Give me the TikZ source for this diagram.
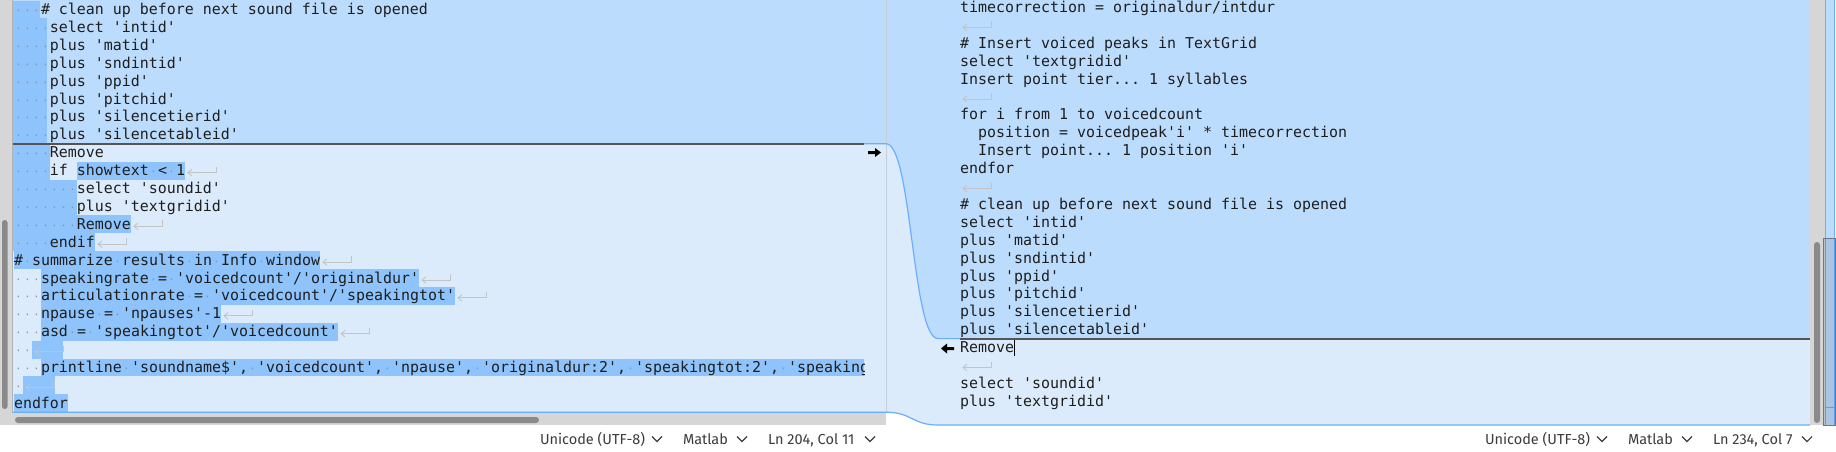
\documentclass[tikz,border=0pt]{standalone}
\usepackage{fontspec}
\setmonofont{DejaVu Sans Mono}
\newfontfamily\uifont{Fira Sans}
\definecolor{chunkM}{HTML}{BCDCFD}
\definecolor{chunkL}{HTML}{DCEBFC}
\definecolor{inlD}{HTML}{8EC3FC}
\definecolor{sepline}{HTML}{545454}
\definecolor{linkblue}{HTML}{6AAEFC}
\definecolor{trough}{HTML}{D6D6D6}
\definecolor{thumb}{HTML}{8A8A8A}
\definecolor{wsdot}{HTML}{8496A8}
\definecolor{nlgray}{HTML}{C4C4C4}
\definecolor{codetext}{HTML}{1E1E1E}
\definecolor{uitext}{HTML}{3C3C3C}
\definecolor{gutline}{HTML}{C5CFD9}
\begin{document}
\begin{tikzpicture}[x=1pt,y=-1pt,
  code/.style={font=\ttfamily\fontsize{14.95}{17.9}\selectfont, text=codetext, anchor=base west, inner sep=0pt, outer sep=0pt},
  ui/.style={font=\uifont\fontsize{14.5}{18}\selectfont, text=uitext, anchor=base west, inner sep=0pt, outer sep=0pt},
  link/.style={draw=linkblue, line width=1.2pt},
  sepl/.style={draw=sepline, line width=2pt},
  nlmark/.style={draw=nlgray, line width=0.9pt},
  chev/.style={draw=uitext, line width=1.1pt}]
\def~{\makebox[0.602em]{\color{wsdot}\scalebox{0.7}{\char"00B7}}}
\useasboundingbox (0,0) rectangle (1836,452);
\fill[white] (0,0) rectangle (1836,452);
% chunk anchors
\coordinate (Ltop) at (886,143.75);
\coordinate (Rtop) at (938,338.6);
\coordinate (Lbot) at (886,412.25);
\coordinate (Rbot) at (938,425);
% pane fills
\fill[chunkM] (12,0) rectangle (Ltop);
\fill[chunkL] (12,143.75) rectangle (Lbot);
\fill[chunkM] (886,0) -- (Ltop) .. controls (912,143.75) and (912,338.6) .. (Rtop) -- (938,0) -- cycle;
\fill[chunkL] (Ltop) .. controls (912,143.75) and (912,338.6) .. (Rtop) -- (Rbot) .. controls (912,425) and (912,412.25) .. (Lbot) -- cycle;
\fill[chunkM] (938,0) rectangle (1810,338.6);
\fill[chunkL] (938,338.6) rectangle (1810,425);
% inline highlights (left pane)
\foreach \a/\b/\r in {12/40/0, 12/47/1, 12/47/2, 12/47/3, 12/47/4, 12/47/5, 12/47/6, 12/47/7,
  12/50/8, 12/50/9, 77/185/9, 12/77/10, 12/77/11, 12/131/12, 12/95/13, 13.5/320/14,
  41/419/15, 41/455/16, 41/221/17, 41/338/18, 32/63/19, 23/55/21, 13.5/68/22}
  \fill[inlD] (\a,{0.55+17.9*\r}) rectangle (\b,{0.55+17.9*(\r+1)});
% left pane text
\node[code] (l0) at (14,{14.5+17.9*0}) {~~~\# clean up before next sound file is opened};
\node[code] (l1) at (14,{14.5+17.9*1}) {~~~~select 'intid'};
\node[code] (l2) at (14,{14.5+17.9*2}) {~~~~plus 'matid'};
\node[code] (l3) at (14,{14.5+17.9*3}) {~~~~plus 'sndintid'};
\node[code] (l4) at (14,{14.5+17.9*4}) {~~~~plus 'ppid'};
\node[code] (l5) at (14,{14.5+17.9*5}) {~~~~plus 'pitchid'};
\node[code] (l6) at (14,{14.5+17.9*6}) {~~~~plus 'silencetierid'};
\node[code] (l7) at (14,{14.5+17.9*7}) {~~~~plus 'silencetableid'};
\node[code] (l8) at (14,{14.5+17.9*8}) {~~~~Remove};
\node[code] (l9) at (14,{14.5+17.9*9}) {~~~~if showtext~<~1};
\node[code] (l10) at (14,{14.5+17.9*10}) {~~~~~~~select 'soundid'};
\node[code] (l11) at (14,{14.5+17.9*11}) {~~~~~~~plus 'textgridid'};
\node[code] (l12) at (14,{14.5+17.9*12}) {~~~~~~~Remove};
\node[code] (l13) at (14,{14.5+17.9*13}) {~~~~endif};
\node[code] (l14) at (14,{14.5+17.9*14}) {\#~summarize~results~in~Info~window};
\node[code] (l15) at (14,{14.5+17.9*15}) {~~~speakingrate~=~'voicedcount'/'originaldur'};
\node[code] (l16) at (14,{14.5+17.9*16}) {~~~articulationrate~=~'voicedcount'/'speakingtot'};
\node[code] (l17) at (14,{14.5+17.9*17}) {~~~npause~=~'npauses'-1};
\node[code] (l18) at (14,{14.5+17.9*18}) {~~~asd~=~'speakingtot'/'voicedcount'};
\node[code] (l19) at (14,{14.5+17.9*19}) {~~};
\begin{scope}
  \clip (12,0) rectangle (864,412.25);
  \fill[inlD] (41,{0.55+17.9*20}) rectangle (880,{0.55+17.9*21});
  \node[code] (l20) at (14,{14.5+17.9*20}) {~~~printline~'soundname\$',~'voicedcount',~'npause',~'originaldur:2',~'speakingtot:2',~'speakingrate:2'};
\end{scope}
\node[code] (l21) at (14,{14.5+17.9*21}) {~};
\node[code] (l22) at (14,{14.5+17.9*22}) {endfor};
% right pane text
\node[code] (r0) at (960,{12.5+17.9*0}) {timecorrection = originaldur/intdur};
\node[code] (r2) at (960,{12.5+17.9*2}) {\# Insert voiced peaks in TextGrid};
\node[code] (r3) at (960,{12.5+17.9*3}) {select 'textgridid'};
\node[code] (r4) at (960,{12.5+17.9*4}) {Insert point tier... 1 syllables};
\node[code] (r6) at (960,{12.5+17.9*6}) {for i from 1 to voicedcount};
\node[code] (r7) at (978,{12.5+17.9*7}) {position = voicedpeak'i' * timecorrection};
\node[code] (r8) at (978,{12.5+17.9*8}) {Insert point... 1 position 'i'};
\node[code] (r9) at (960,{12.5+17.9*9}) {endfor};
\node[code] (r11) at (960,{12.5+17.9*11}) {\# clean up before next sound file is opened};
\node[code] (r12) at (960,{12.5+17.9*12}) {select 'intid'};
\node[code] (r13) at (960,{12.5+17.9*13}) {plus 'matid'};
\node[code] (r14) at (960,{12.5+17.9*14}) {plus 'sndintid'};
\node[code] (r15) at (960,{12.5+17.9*15}) {plus 'ppid'};
\node[code] (r16) at (960,{12.5+17.9*16}) {plus 'pitchid'};
\node[code] (r17) at (960,{12.5+17.9*17}) {plus 'silencetierid'};
\node[code] (r18) at (960,{12.5+17.9*18}) {plus 'silencetableid'};
\node[code] (r19) at (960,{12.5+17.9*19}) {Remove};
\node[code] (r21) at (960,{12.5+17.9*21}) {select 'soundid'};
\node[code] (r22) at (960,{12.5+17.9*22}) {plus 'textgridid'};
% newline marks
\foreach \x/\yc in {188/{9.5+17.9*9}, 134/{9.5+17.9*12}, 98/{9.5+17.9*13}, 323/{9.5+17.9*14},
  422/{9.5+17.9*15}, 458/{9.5+17.9*16}, 224/{9.5+17.9*17}, 341/{9.5+17.9*18},
  35/{9.5+17.9*19}, 26/{9.5+17.9*21},
  963/{7.5+17.9*1}, 963/{7.5+17.9*5}, 963/{7.5+17.9*10}, 963/{7.5+17.9*20}} {
  \draw[nlmark] ({\x+28},{\yc-4}) -- ({\x+28},{\yc+2}) -- (\x,{\yc+2});
  \draw[nlmark] ({\x+4},{\yc-1.3}) -- (\x,{\yc+2}) -- ({\x+4},{\yc+5.3});
}
% separator and link lines
\draw[sepl] (12,143.75) -- (864,143.75);
\draw[sepl] (960,338.6) -- (1810,338.6);
\draw[gutline, line width=0.8pt] (886,0) -- (Lbot);
\draw[link] (864,143.75) -- (Ltop) .. controls (912,143.75) and (912,338.6) .. (Rtop) -- (960,338.6);
\draw[link] (12,412.25) -- (Lbot) .. controls (912,412.25) and (912,425) .. (Rbot) -- (1810,425);
% chunk arrows
\fill[black] (868,151) -- (875,151) -- (875,148) -- (881,152.5) -- (875,157) -- (875,154) -- (868,154) -- cycle;
\fill[black] (954,347) -- (947,347) -- (947,343.5) -- (941,348.5) -- (947,353.5) -- (947,350) -- (954,350) -- cycle;
% cursor
\draw[black, line width=1pt] (1014.5,340) -- (1014.5,356);
% scrollbars
\fill[trough] (0,0) rectangle (12,425);
\draw[gray!60, line width=0.6pt] (12,0) -- (12,412.25);
\fill[thumb, rounded corners=2.7pt] (2,220) rectangle (7.5,409);
\fill[trough] (12,413) rectangle (886,425);
\fill[thumb, rounded corners=3pt] (15,417) rectangle (539,423);
\fill[trough] (1810,0) rectangle (1825,425);
\fill[thumb, rounded corners=3pt] (1814,242) rectangle (1820,423);
% overview strip
\fill[chunkM] (1825.8,0) rectangle (1834.6,425);
\draw[linkblue, line width=0.8pt] (1825.8,0) -- (1825.8,425);
\draw[linkblue, line width=0.8pt] (1834.6,0) -- (1834.6,425);
\draw[linkblue, line width=0.8pt] (1825.8,407) -- (1834.6,407);
\fill[black, fill opacity=0.1] (1823.8,238) rectangle (1835.8,425);
\draw[gray!90!blue, line width=0.7pt] (1823.8,238) rectangle (1835.8,425);
% status bar
\node[ui] (encL) at (540,444) {Unicode (UTF-8)};
\node[ui] (synL) at (683,444) {Matlab};
\node[ui] (posL) at (768,444) {Ln 204, Col 11};
\node[ui] (encR) at (1485,444) {Unicode (UTF-8)};
\node[ui] (synR) at (1628,444) {Matlab};
\node[ui] (posR) at (1713,444) {Ln 234, Col 7};
\foreach \cx in {652, 737, 865, 1597, 1682, 1802}
  \draw[chev] (\cx,436.5) -- ({\cx+5},441.5) -- ({\cx+10},436.5);
\end{tikzpicture}
\end{document}
